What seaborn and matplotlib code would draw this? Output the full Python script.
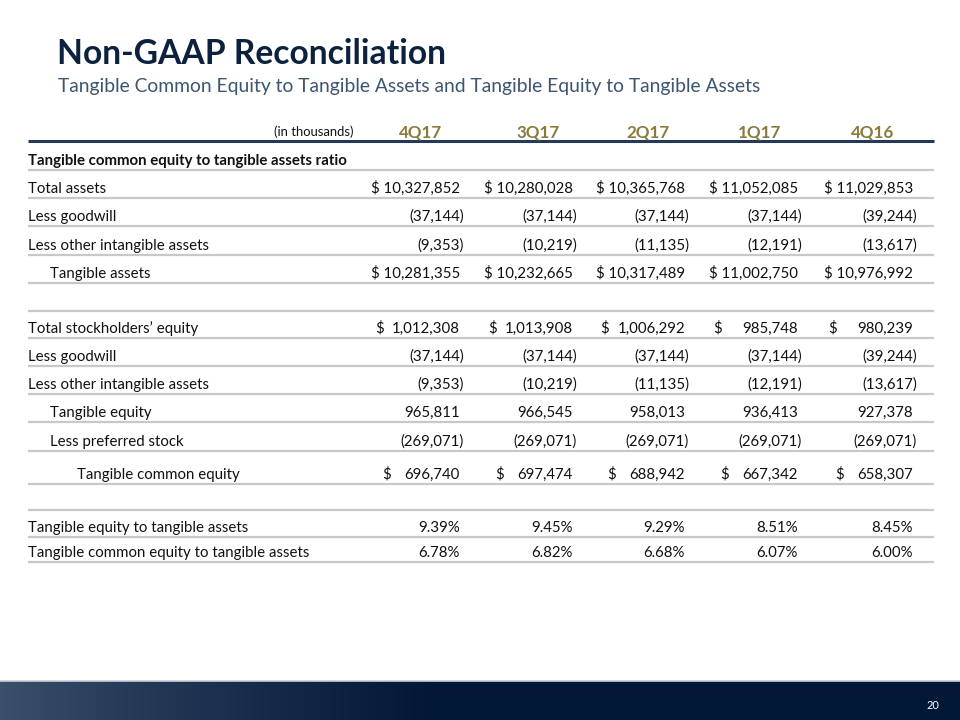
import numpy as np
import matplotlib
matplotlib.use("Agg")
import matplotlib.pyplot as plt
import seaborn as sns

# ---------------- data ----------------
quarters = ["4Q17", "3Q17", "2Q17", "1Q17", "4Q16"]
row_labels = [
    "Tangible common equity to tangible assets ratio",
    "Total assets",
    "Less goodwill",
    "Less other intangible assets",
    "Tangible assets",
    "",
    "Total stockholders\u2019 equity",
    "Less goodwill",
    "Less other intangible assets",
    "Tangible equity",
    "Less preferred stock",
    "Tangible common equity",
    "",
    "Tangible equity to tangible assets",
    "Tangible common equity to tangible assets",
]
total_assets = [10327852, 10280028, 10365768, 11052085, 11029853]
goodwill_assets = [-37144, -37144, -37144, -37144, -39244]
other_intangibles_assets = [-9353, -10219, -11135, -12191, -13617]
tangible_assets = [10281355, 10232665, 10317489, 11002750, 10976992]
total_equity = [1012308, 1013908, 1006292, 985748, 980239]
goodwill_equity = [-37144, -37144, -37144, -37144, -39244]
other_intangibles_equity = [-9353, -10219, -11135, -12191, -13617]
tangible_equity = [965811, 966545, 958013, 936413, 927378]
preferred_stock = [-269071, -269071, -269071, -269071, -269071]
tangible_common_equity = [696740, 697474, 688942, 667342, 658307]
te_to_ta = [9.39, 9.45, 9.29, 8.51, 8.45]
tce_to_ta = [6.78, 6.82, 6.68, 6.07, 6.00]

row_values = [None, total_assets, goodwill_assets, other_intangibles_assets,
              tangible_assets, None, total_equity, goodwill_equity,
              other_intangibles_equity, tangible_equity, preferred_stock,
              tangible_common_equity, None, te_to_ta, tce_to_ta]
# formats: head, dfull ($ attached), dsep ($ separated), num, pct
row_fmt = ["head", "dfull", "num", "num", "dfull", "blank", "dsep", "num", "num",
           "num", "num", "dsep2", "blank", "pct", "pct"]
row_indent = [0, 0, 0, 0, 22, 0, 0, 0, 0, 22, 22, 49, 0, 0, 0]
row_heights = [29, 28, 28, 29, 28, 28, 27, 28, 28, 28, 29, 33, 26, 27, 25]

# ---------------- style ----------------
sns.set_theme(style="white")
plt.rcParams["font.family"] = ["Lato", "DejaVu Sans"]

NAVY = "#0c213d"
SUB = "#3d5570"
GOLD = "#8a7a3c"
TXT = "#111111"
RULE = "#c8c8c8"

fig = plt.figure(figsize=(9.6, 7.2), dpi=100)
ax = fig.add_axes([0, 0, 1, 1])
ax.set_xlim(0, 960)
ax.set_ylim(720, 0)
ax.axis("off")

PX = 72 / 100  # points per pixel

# title
ax.text(57, 64, "Non-GAAP Reconciliation", fontsize=33.7 * PX, fontweight="bold",
        color=NAVY, va="baseline", ha="left")
ax.text(58, 92, "Tangible Common Equity to Tangible Assets and Tangible Equity to Tangible Assets",
        fontsize=19.3 * PX, color=SUB, va="baseline", ha="left")

# header
left, right = 28, 934
col_right = [460, 573, 685, 798, 913]
col_center = [421, 538, 648, 760, 873]
header_line = 141
ax.text(354, 136, "(in thousands)", fontsize=13 * PX, color=TXT, ha="right", va="baseline")
for q, c in zip(quarters, col_center):
    ax.text(c, 137, q, fontsize=17 * PX, fontweight="bold", color=GOLD, ha="center", va="baseline")
ax.hlines(header_line, left, right, color="#24395a", lw=2.2)

body_fs = 15 * PX

def fmt_num(v):
    s = f"{abs(v):,}"
    return f"({s})" if v < 0 else s

y = header_line
for lab, vals, fm, ind, h in zip(row_labels, row_values, row_fmt, row_indent, row_heights):
    ybase = y + h - 5
    if fm == "head":
        ax.text(left, ybase, lab, fontsize=body_fs, fontweight="bold", color=TXT,
                ha="left", va="baseline")
    elif fm != "blank":
        ax.text(left + ind, ybase, lab, fontsize=body_fs, color=TXT, ha="left", va="baseline")
        for v, r in zip(vals, col_right):
            if fm == "pct":
                ax.text(r, ybase, f"{v:.2f}%", fontsize=body_fs, color=TXT, ha="right", va="baseline")
            elif fm == "dfull":
                ax.text(r, ybase, "$ " + fmt_num(v), fontsize=body_fs, color=TXT, ha="right", va="baseline")
            else:
                xr = r + 4 if v < 0 else r
                ax.text(xr, ybase, fmt_num(v), fontsize=body_fs, color=TXT, ha="right", va="baseline")
                if fm == "dsep":
                    ax.text(r - 85, ybase, "$", fontsize=body_fs, color=TXT, ha="left", va="baseline")
                elif fm == "dsep2":
                    ax.text(r - 78, ybase, "$", fontsize=body_fs, color=TXT, ha="left", va="baseline")
    y += h
    ax.hlines(y, left, right, color=RULE, lw=1.6)

# footer band with gradient
W = 960
xs = np.linspace(0, 1, W)
t = np.clip(xs / 0.45, 0, 1) ** 0.8
c0 = np.array(matplotlib.colors.to_rgb("#3d516d"))
c1 = np.array(matplotlib.colors.to_rgb("#021836"))
row = c0[None, :] * (1 - t[:, None]) + c1[None, :] * t[:, None]
img = np.repeat(row[None, :, :], 40, axis=0)
ax.imshow(img, extent=[0, 960, 720, 681], aspect="auto", zorder=1)
ax.hlines(680.5, 0, 960, color="#c5cfdb", lw=1.2, zorder=2)
ax.text(933, 709, "20", fontsize=11 * PX, color="white", ha="center", va="baseline", zorder=3)
ax.set_xlim(0, 960)
ax.set_ylim(720, 0)

fig.savefig("out.png", dpi=100)
